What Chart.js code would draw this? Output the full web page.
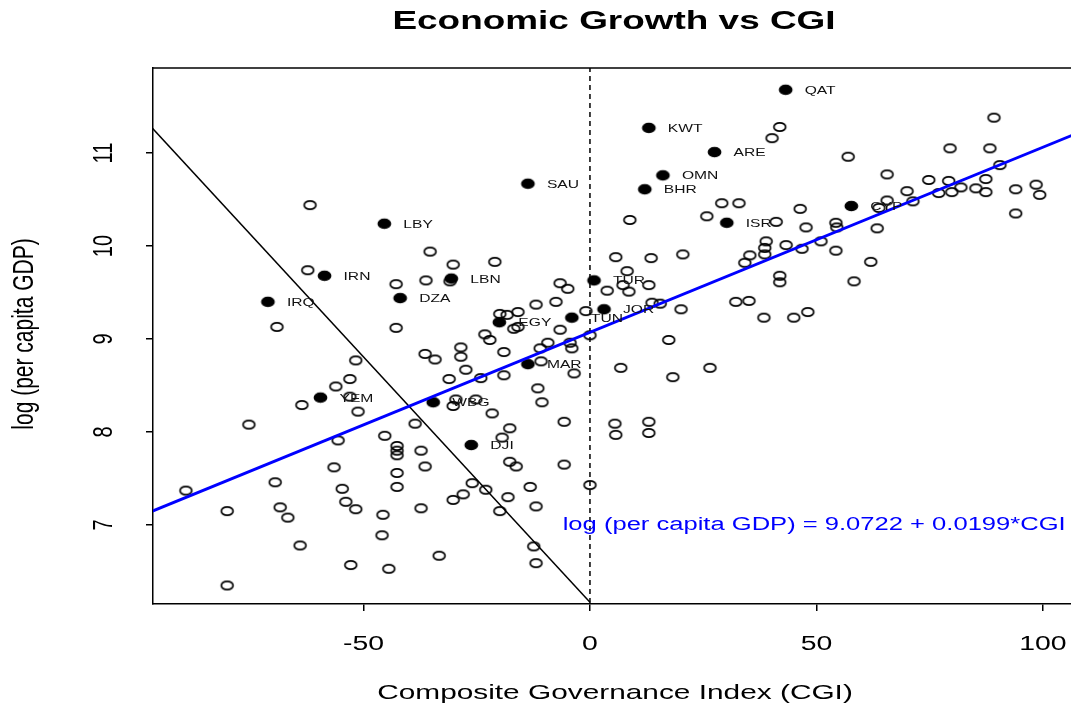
<!DOCTYPE html>
<html>
<head>
<meta charset="utf-8">
<script src="https://cdn.jsdelivr.net/npm/chart.js@4.4.1/dist/chart.umd.min.js"></script>
<style>
html,body{margin:0;padding:0;background:#fff;overflow:hidden;}
canvas{display:block;}
</style>
</head>
<body>
<canvas id="c" width="1071" height="709"></canvas>
<script>
// ---------- DATA ----------
const chartTitle = "Economic Growth vs CGI";
const xAxisTitle = "Composite Governance Index (CGI)";
const yAxisTitle = "log (per capita GDP)";
const xTickValues = [-50, 0, 50, 100];
const yTickValues = [7, 8, 9, 10, 11];

// labelled (filled) countries
const countryCodes = ["QAT","KWT","ARE","OMN","BHR","SAU","LBY","ISR","CYP","IRN","IRQ","LBN","DZA","TUR","JOR","TUN","EGY","MAR","YEM","WBG","DJI"];
const cgiLabeled = [43.2, 13.0, 27.5, 16.1, 12.1, -13.7, -45.4, 30.2, 57.7, -58.6, -71.1, -30.6, -41.9, 0.9, 3.1, -4.0, -20.0, -13.7, -59.5, -34.6, -26.2];
const gdpLabeled = [11.68, 11.27, 11.01, 10.76, 10.61, 10.67, 10.24, 10.25, 10.43, 9.68, 9.40, 9.65, 9.44, 9.63, 9.32, 9.23, 9.18, 8.73, 8.37, 8.32, 7.86];

// other countries (open circles)
const cgiOther = [-61.8,41.9,40.2,57.0,29.1,32.9,8.8,25.8,46.4,41.1,47.7,54.3,54.5,38.9,43.3,51.0,38.6,38.6,46.8,54.3,
 89.2,79.5,88.3,90.5,65.6,74.8,79.2,87.4,81.9,85.2,70.0,98.5,99.3,94.0,77.0,79.9,87.4,65.6,71.3,63.8,94.0,63.4,
 -62.3,-69.1,-51.7,-53.0,-56.1,-53.0,-63.6,-51.2,-75.3,
 -35.3,-30.2,-21.0,-42.8,-36.2,-30.9,-6.6,-4.9,3.8,-11.9,-7.5,-0.9,-19.9,-18.3,-15.9,-16.8,-15.9,-42.8,-6.6,0.0,
 -23.2,-22.1,-28.5,-36.4,-34.2,-28.5,-19.0,-11.0,-9.3,-4.4,-4.0,-10.8,-27.4,-3.5,-19.0,-24.1,-31.1,-11.5,-10.6,
 -29.6,-25.2,-30.2,-21.6,-38.6,-5.7,-17.7,5.5,
 5.7,13.5,20.5,35.3,34.2,41.9,41.9,8.2,7.3,13.0,8.6,13.7,15.5,20.1,32.2,35.1,38.4,45.0,48.1,17.4,6.8,18.3,26.5,13.0,
 62.0,58.3,
 -55.6,-45.3,-56.5,-69.5,-89.2,-54.7,-53.9,-51.7,-80.1,-68.4,-66.7,-45.7,-45.9,-64.0,-52.8,-80.1,
 -42.6,-42.6,-42.6,-37.3,-19.4,-36.4,-42.6,-17.7,-16.3,-5.7,-42.6,-26.0,-23.0,-13.2,0.0,-28.0,-30.2,-18.1,-11.9,
 -37.3,-19.9,-12.4,-33.3,-11.9,-44.4,5.7,13.0];
const gdpOther = [10.44,11.28,11.16,10.96,10.46,10.46,10.28,10.32,10.40,10.26,10.20,10.25,10.20,10.05,10.01,10.05,9.98,9.91,9.97,9.95,
 11.38,11.05,11.05,10.87,10.77,10.71,10.70,10.72,10.63,10.62,10.59,10.66,10.55,10.61,10.57,10.58,10.58,10.49,10.48,10.41,10.35,10.19,
 9.74,9.13,8.77,8.57,8.49,8.38,8.29,8.22,8.08,
 9.94,9.80,9.83,9.59,9.63,9.62,9.60,9.54,9.52,9.37,9.40,9.30,9.27,9.26,9.29,9.11,9.13,9.12,9.10,9.04,
 9.05,8.99,8.91,8.84,8.78,8.81,8.86,8.90,8.96,8.96,8.90,8.76,8.67,8.63,8.61,8.58,8.57,8.47,8.32,
 8.35,8.35,8.28,8.20,8.09,8.11,8.04,8.09,
 9.88,9.87,9.91,9.90,9.82,9.68,9.61,9.73,9.58,9.58,9.51,9.39,9.38,9.32,9.40,9.41,9.23,9.23,9.29,8.99,8.69,8.59,8.69,8.11,
 9.83,9.62,
 7.91,7.96,7.62,7.46,7.37,7.39,7.25,7.17,7.15,7.19,7.08,7.11,6.89,6.78,6.57,6.35,
 7.85,7.80,7.75,7.80,7.94,7.63,7.56,7.68,7.63,7.65,7.41,7.45,7.38,7.41,7.43,7.33,7.27,7.30,7.20,
 7.18,7.15,6.77,6.67,6.59,6.53,7.97,7.99];

// fitted regression line (as printed on the chart)
const fitIntercept = 9.0722;
const fitSlope = 0.0199;
const fitText = "log (per capita GDP) = 9.0722 + 0.0199*CGI";
const fitLineX = [-100, 110];
// black diagonal reference line end points
const diagX = [-100, 0];
const diagY = [11.445, 6.17];
// dashed vertical line at CGI = 0
const vlineX = [0, 0];
const vlineY = [5, 13];

// ---------- BUILD ----------
const FONT = '"Liberation Sans", Arial, Helvetica, sans-serif';
const SX = 1.42; // horizontal text stretch

function ellipseCanvas(rx, ry, filled, lw) {
  const c = document.createElement('canvas');
  const w = Math.ceil(rx * 2 + lw + 3), h = Math.ceil(ry * 2 + lw + 3);
  c.width = w; c.height = h;
  const g = c.getContext('2d');
  g.beginPath();
  g.ellipse(w / 2, h / 2, rx, ry, 0, 0, Math.PI * 2);
  if (filled) { g.fillStyle = '#000'; g.fill(); }
  g.lineWidth = lw; g.strokeStyle = '#000'; g.stroke();
  return c;
}
const openStyle = ellipseCanvas(5.9, 4.2, false, 1.7);
const filledStyle = ellipseCanvas(6.3, 4.7, true, 1.2);

const otherPts = cgiOther.map((x, i) => ({x: x, y: gdpOther[i]}));
const labeledPts = cgiLabeled.map((x, i) => ({x: x, y: gdpLabeled[i], code: countryCodes[i]}));
const fitPts = fitLineX.map(x => ({x: x, y: fitIntercept + fitSlope * x}));
const diagPts = diagX.map((x, i) => ({x: x, y: diagY[i]}));
const vPts = vlineX.map((x, i) => ({x: x, y: vlineY[i]}));

function stretchedText(ctx, text, x, y, font, color, align, rotate) {
  ctx.save();
  ctx.font = font;
  ctx.fillStyle = color;
  ctx.textAlign = align || 'center';
  ctx.textBaseline = 'middle';
  ctx.translate(x, y);
  ctx.scale(SX, 1);
  if (rotate) ctx.rotate(-Math.PI / 2);
  ctx.fillText(text, 0, 0);
  ctx.restore();
}

const textPlugin = {
  id: 'texts',
  afterDatasetsDraw(chart) {
    const ctx = chart.ctx;
    const xs = chart.scales.x, ys = chart.scales.y;
    // country labels
    const meta = chart.getDatasetMeta(3);
    meta.data.forEach((el, i) => {
      stretchedText(ctx, labeledPts[i].code, el.x + 19, el.y + 1, '11px ' + FONT, '#111', 'left');
    });
    // fit equation
    stretchedText(ctx, fitText, xs.getPixelForValue(49.5), ys.getPixelForValue(7.0), '18px ' + FONT, '#0000FF', 'center');
  },
  afterDraw(chart) {
    const ctx = chart.ctx;
    const xs = chart.scales.x, ys = chart.scales.y;
    const ca = chart.chartArea;
    // top border
    ctx.save();
    ctx.strokeStyle = '#000';
    ctx.lineWidth = 1.5;
    ctx.beginPath();
    ctx.moveTo(ca.left, ca.top);
    ctx.lineTo(ca.right, ca.top);
    ctx.stroke();
    ctx.restore();
    // title
    stretchedText(ctx, chartTitle, 614, 22, 'bold 26px ' + FONT, '#000', 'center');
    // x ticks
    xTickValues.forEach(v => {
      stretchedText(ctx, String(v), xs.getPixelForValue(v), 644, '20px ' + FONT, '#000', 'center');
    });
    // y ticks (rotated)
    yTickValues.forEach(v => {
      stretchedText(ctx, String(v), 104, ys.getPixelForValue(v), '20px ' + FONT, '#000', 'center', true);
    });
    // axis titles
    stretchedText(ctx, xAxisTitle, 615, 693, '21px ' + FONT, '#000', 'center');
    stretchedText(ctx, yAxisTitle, 25, 334, '21px ' + FONT, '#000', 'center', true);
  }
};

const axisCommon = {
  type: 'linear',
  grid: { drawOnChartArea: false, drawTicks: true, tickLength: 7, color: '#000', lineWidth: 1.5 },
  border: { display: true, color: '#000', width: 1.5 }
};

new Chart(document.getElementById('c'), {
  type: 'scatter',
  data: {
    datasets: [
      { data: fitPts, showLine: true, borderColor: '#0000FF', borderWidth: 3, pointRadius: 0, fill: false },
      { data: diagPts, showLine: true, borderColor: '#000', borderWidth: 1.5, pointRadius: 0, fill: false },
      { data: vPts, showLine: true, borderColor: '#000', borderWidth: 1.5, borderDash: [5, 4], pointRadius: 0, fill: false },
      { data: labeledPts, pointStyle: filledStyle, pointRadius: 6, showLine: false },
      { data: otherPts, pointStyle: openStyle, pointRadius: 6, showLine: false }
    ]
  },
  options: {
    responsive: false,
    animation: false,
    events: [],
    layout: { autoPadding: false, padding: { top: 68, left: 0, right: 0, bottom: 0 } },
    plugins: { legend: { display: false }, tooltip: { enabled: false }, title: { display: false } },
    scales: {
      x: Object.assign({}, axisCommon, {
        min: -96.47, max: 106.2,
        ticks: { display: false, includeBounds: false, stepSize: 50 },
        afterFit(a) { a.height = 105; }
      }),
      y: Object.assign({}, axisCommon, {
        min: 6.151, max: 11.914,
        ticks: { display: false, includeBounds: false, stepSize: 1 },
        afterFit(a) { a.width = 153; }
      })
    }
  },
  plugins: [textPlugin]
});
</script>
</body>
</html>
